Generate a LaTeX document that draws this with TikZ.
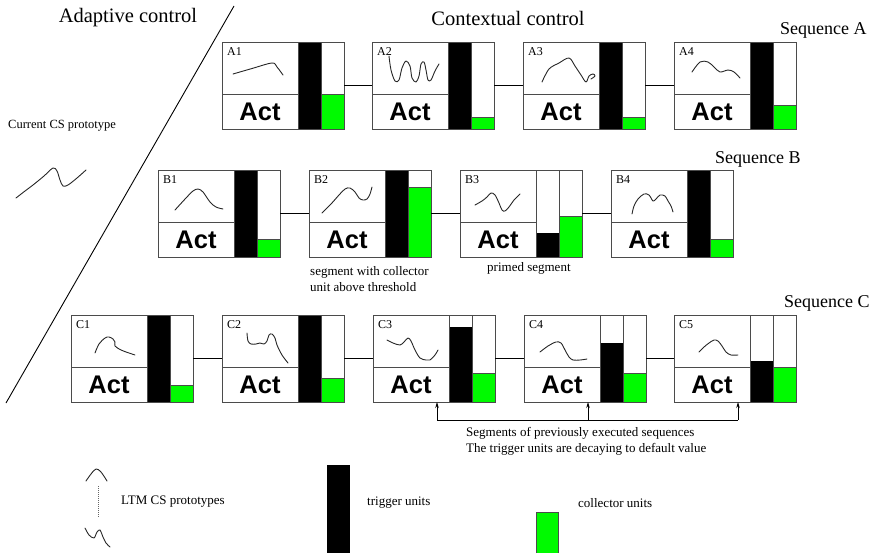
\documentclass[tikz,border=0pt]{standalone}
\usepackage{fontspec}
\setmainfont{Liberation Serif}
\newfontfamily\actfont{Liberation Sans}
\usetikzlibrary{calc,arrows.meta}
\definecolor{collgreen}{RGB}{0,250,0}
\definecolor{boxgray}{RGB}{75,75,75}
\newcommand\segunit[6]{%
  \begin{scope}[shift={#2}]
    \node[unitnode] (#1) at (61,43.5) {};
    \fill[trig] (76,{87-#4}) rectangle (99,87);
    \fill[coll] (99,{87-#5}) rectangle (122,87);
    \draw[boxline] (0,0) rectangle (122,87) (0,52) -- (76,52) (76,0) -- (76,87) (99,0) -- (99,87)
      (99,{87-#5}) -- (122,{87-#5});
    \node[actlabel] at (38,70) {Act};
    \node[seglabel] at (5,5) {#3};
    \draw[shapeline] plot[smooth, tension=0.55] coordinates {#6};
  \end{scope}}
\begin{document}
\begin{tikzpicture}[x=1pt,y=-1pt,
  boxline/.style={draw=boxgray,line width=0.9pt},
  trig/.style={fill=black},
  coll/.style={fill=collgreen},
  shapeline/.style={line width=0.9pt,line cap=round,line join=round,draw=black!85},
  unitnode/.style={minimum width=122pt,minimum height=87pt,inner sep=0pt,outer sep=0pt},
  actlabel/.style={font=\actfont\bfseries\fontsize{25.5}{26}\selectfont,inner sep=0pt},
  seglabel/.style={font=\fontsize{12}{12}\selectfont,anchor=north west,inner sep=0pt},
  titletext/.style={font=\fontsize{20.5}{22}\selectfont,inner sep=0pt},
  seqtitle/.style={font=\fontsize{18}{20}\selectfont,anchor=west,inner sep=0pt},
  note/.style={font=\fontsize{13}{16}\selectfont,anchor=west,inner sep=0pt,align=left},
  link/.style={line width=0.8pt},
  uparrow/.style={line width=0.7pt,-{Stealth[length=6pt,width=3.5pt]}},
]
\useasboundingbox (0,0) rectangle (874,552);

% titles
\node[titletext] (adaptive) at (128,18) {Adaptive control};
\node[titletext] (contextual) at (508,18) {Contextual control};
\draw[line width=0.9pt] (234,6) -- (6,403);

% current prototype
\node[note,font=\fontsize{12.5}{14}\selectfont] (cur) at (8,126) {Current CS prototype};
\draw[shapeline] plot[smooth,tension=0.55] coordinates {(16,198) (25,191) (33,185) (44,176) (53,168) (57,171) (60,180) (63,186) (68,185) (77,178) (86,170)};

% Sequence A
\node[seqtitle] (seqA) at (780,30) {Sequence A};
\segunit{A1}{(222,42)}{A1}{87}{35}{(11,32) (30,26.5) (50,21) (55,25) (61,33)}
\segunit{A2}{(372,42)}{A2}{87}{12}{(17,14) (19,28) (23,39) (27,38) (30,26) (34,19) (38,24) (40,36) (44,40) (47,34) (49,22) (52,20) (54,28) (56,38) (59,38) (63,29) (67,22)}
\segunit{A3}{(523,42)}{A3}{87}{12}{(19,40) (26,27) (36,21) (46,16) (52,24) (58,33) (63,40) (66,34) (70,32) (72,34) (68,37)}
\segunit{A4}{(674,42)}{A4}{87}{24}{(18,30) (26,20) (34,20) (40,25) (46,30) (54,28) (60,30) (66,36)}
\draw[link] (A1.east) -- (A2.west);
\draw[link] (A2.east) -- (A3.west);
\draw[link] (A3.east) -- (A4.west);

% Sequence B
\node[seqtitle] (seqB) at (715,159) {Sequence B};
\segunit{B1}{(158,170)}{B1}{87}{18}{(17,40) (28,28) (35,21) (40,19) (45,22) (52,32) (58,37) (65,39)}
\segunit{B2}{(309,170)}{B2}{87}{70}{(13,43) (22,34) (30,25) (36,19) (41,18) (46,22) (50,28) (54,30) (58,29) (61,24) (63,17)}
\segunit{B3}{(460,170)}{B3}{24}{41}{(15,35) (22,31) (27,27) (31,23) (35,25) (39,33) (42,40) (45,41) (49,37) (54,30) (60,24)}
\segunit{B4}{(611,170)}{B4}{87}{18}{(21,44) (23,36) (27,29) (33,24) (38,25) (42,31) (45,29) (49,25) (54,26) (57,31) (60,36) (62,42)}
\draw[link] (B1.east) -- (B2.west);
\draw[link] (B2.east) -- (B3.west);
\draw[link] (B3.east) -- (B4.west);
\node[note] (noteB2) at (310,279) {segment with collector\\unit above threshold};
\node[note] (noteB3) at (487,268) {primed segment};

% Sequence C
\node[seqtitle] (seqC) at (784,303) {Sequence C};
\segunit{C1}{(71,315)}{C1}{87}{17}{(24,38) (28,29) (34,23) (38,22) (42,24) (44,27) (44,31) (50,35) (58,38) (64,40)}
\segunit{C2}{(222,315)}{C2}{87}{24}{(25,18) (26,26) (29,29) (34,29) (38,28) (42,29) (45,26) (47,20) (50,19) (53,23) (55,30) (60,40) (66,48)}
\segunit{C3}{(373,315)}{C3}{75}{29}{(14,25) (20,28) (27,30) (31,27) (35,23) (38,26) (42,35) (47,43) (53,45) (57,45) (62,40) (65,35)}
\segunit{C4}{(524,315)}{C4}{59}{29}{(16,37) (24,31) (32,27) (37,28) (41,35) (45,42) (49,45) (56,45) (63,44)}
\segunit{C5}{(674,315)}{C5}{41}{35}{(25,37) (30,32) (35,28) (40,25) (44,26) (48,31) (52,37) (57,40) (64,40)}
\draw[link] (C1.east) -- (C2.west);
\draw[link] (C2.east) -- (C3.west);
\draw[link] (C3.east) -- (C4.west);
\draw[link] (C4.east) -- (C5.west);

% arrows to previously executed segments
\coordinate (base) at (0,420);
\coordinate (c3b) at ($(C3.south west)+(64,0)$);
\coordinate (c4b) at ($(C4.south west)+(64,0)$);
\coordinate (c5b) at ($(C5.south west)+(64,0)$);
\draw[line width=0.7pt] (c3b |- base) -- (c5b |- base);
\draw[uparrow] (c3b |- base) -- (c3b);
\draw[uparrow] (c4b |- base) -- (c4b);
\draw[uparrow] (c5b |- base) -- (c5b);
\node[note] (noteC) at (466,441) {Segments of previously executed sequences\\The trigger units are decaying to default value};

% legend
\draw[shapeline] plot[smooth,tension=0.6] coordinates {(86,481) (91,474) (96,469) (101,472) (107,481)};
\draw[line width=0.8pt,draw=black!60,dash pattern=on 1pt off 1pt] (98,486) -- (98,518);
\draw[shapeline] plot[smooth,tension=0.5] coordinates {(85,528) (89,535) (94,538) (97,532) (100,530) (103,537) (106,543) (110,547)};
\node[note] (ltm) at (121,502) {LTM CS prototypes};
\fill[black] (327,465) rectangle (350,553);
\node[note] (trigleg) at (367,503) {trigger units};
\fill[collgreen] (536,512) rectangle (558,553);
\draw[boxline] (536,553) -- (536,512) -- (558,512) -- (558,553);
\node[note] (collleg) at (578,503) {collector units};
\end{tikzpicture}
\end{document}
